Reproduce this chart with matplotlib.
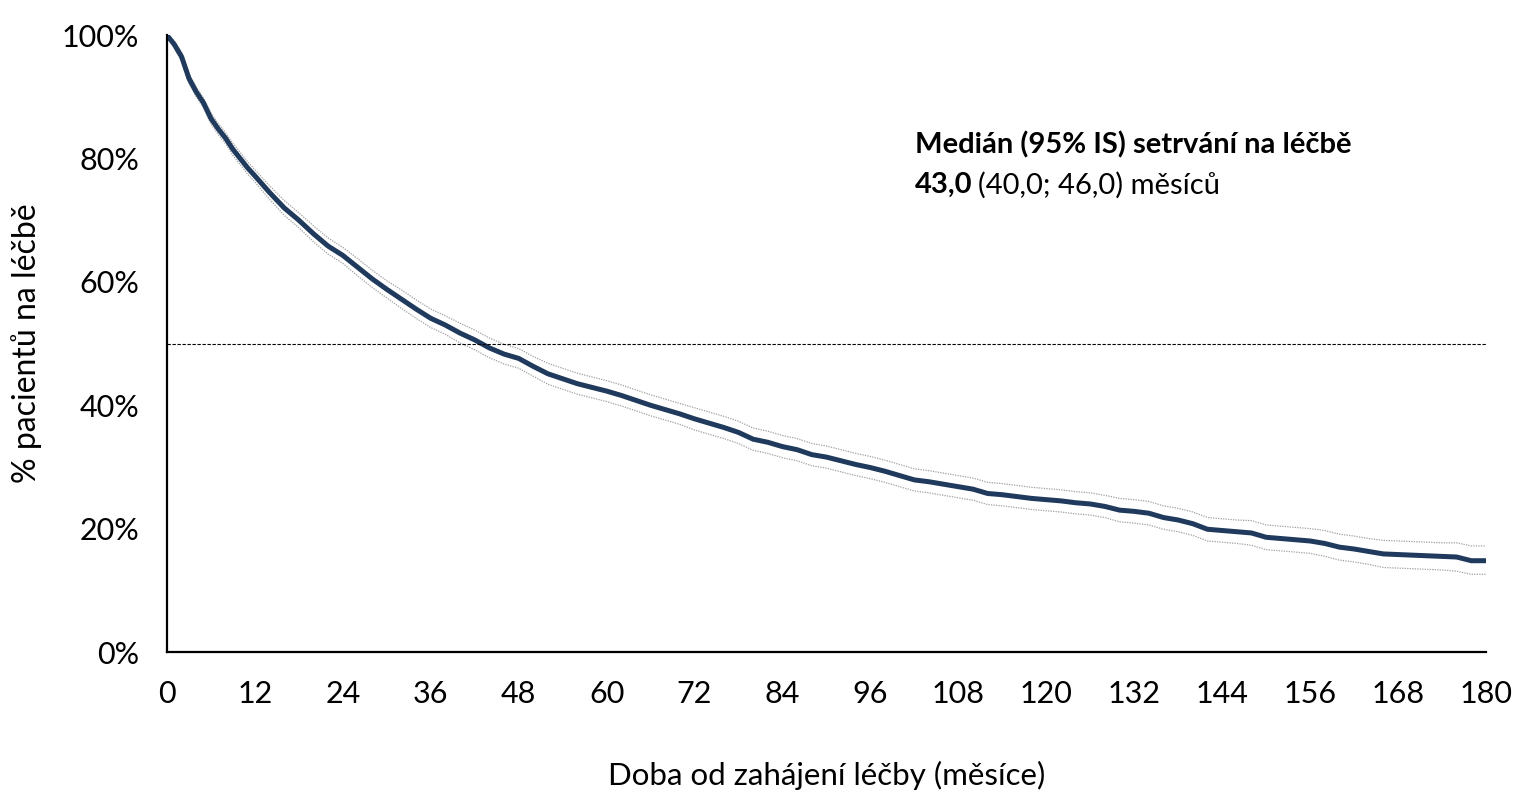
import numpy as np
import matplotlib
matplotlib.use("Agg")
import matplotlib.pyplot as plt
from matplotlib.ticker import FuncFormatter

plt.rcParams['font.family'] = ['Lato', 'DejaVu Sans']

# time on treatment (months) and share still on treatment (%)
months = [0, 1, 2, 3, 4, 5, 6, 7, 8, 9, 10, 11, 12,
          14, 16, 18, 20, 22, 24, 26, 28, 30, 32, 34, 36, 38, 40, 42, 44, 46, 48,
          50, 52, 54, 56, 58, 60, 62, 64, 66, 68, 70, 72, 74, 76, 78, 80, 82, 84,
          86, 88, 90, 92, 94, 96, 98, 100, 102, 104, 106, 108, 110, 112, 114, 116,
          118, 120, 122, 124, 126, 128, 130, 132, 134, 136, 138, 140, 142, 144, 146,
          148, 150, 152, 154, 156, 158, 160, 162, 164, 166, 168, 170, 172, 174, 176,
          178, 180]
surv = [100, 98.5, 96.5, 93.0, 90.8, 89.0, 86.5, 84.8, 83.3, 81.5, 80.0, 78.5, 77.2,
        74.5, 72.0, 70.0, 67.8, 65.8, 64.3, 62.4, 60.5, 58.8, 57.2, 55.6, 54.1, 53.0,
        51.7, 50.6, 49.3, 48.3, 47.6,
        46.3, 45.1, 44.3, 43.5, 42.9, 42.3, 41.6, 40.8, 40.0, 39.3, 38.6, 37.8, 37.1,
        36.4, 35.6, 34.5, 34.0, 33.3,
        32.8, 32.0, 31.6, 31.0, 30.4, 29.9, 29.3, 28.6, 27.9, 27.6, 27.2, 26.8, 26.4,
        25.7, 25.5, 25.2,
        24.9, 24.7, 24.5, 24.2, 24.0, 23.6, 23.0, 22.8, 22.5, 21.8, 21.4, 20.8, 19.9,
        19.7, 19.5,
        19.3, 18.6, 18.4, 18.2, 18.0, 17.6, 17.0, 16.7, 16.3, 15.9, 15.8, 15.7, 15.6,
        15.5, 15.4,
        14.8, 14.8]
upper = [100, 99.1, 97.2, 93.8, 91.6, 89.8, 87.4, 85.7, 84.2, 82.5, 81.0, 79.5, 78.2,
         75.6, 73.2, 71.2, 69.1, 67.1, 65.6, 63.8, 61.9, 60.2, 58.7, 57.1, 55.6, 54.5,
         53.3, 52.2, 50.9, 49.9, 49.2,
         47.9, 46.8, 46.0, 45.2, 44.6, 44.0, 43.3, 42.5, 41.7, 41.0, 40.3, 39.6, 38.9,
         38.2, 37.4, 36.3, 35.8, 35.1,
         34.6, 33.8, 33.4, 32.8, 32.2, 31.7, 31.1, 30.4, 29.7, 29.4, 29.0, 28.6, 28.2,
         27.5, 27.3, 27.0,
         26.7, 26.5, 26.3, 26.0, 25.8, 25.4, 24.9, 24.7, 24.4, 23.7, 23.3, 22.7, 21.8,
         21.6, 21.4,
         21.3, 20.6, 20.4, 20.2, 20.0, 19.7, 19.1, 18.8, 18.4, 18.1, 18.0, 17.9, 17.8,
         17.7, 17.7,
         17.2, 17.2]
lower = [100, 97.9, 95.8, 92.2, 90.0, 88.2, 85.6, 83.9, 82.4, 80.5, 79.0, 77.5, 76.2,
         73.4, 70.8, 68.8, 66.5, 64.5, 63.0, 61.0, 59.1, 57.4, 55.7, 54.1, 52.6, 51.5,
         50.1, 49.0, 47.7, 46.7, 46.0,
         44.7, 43.4, 42.6, 41.8, 41.2, 40.6, 39.9, 39.1, 38.3, 37.6, 36.9, 36.0, 35.3,
         34.6, 33.8, 32.7, 32.2, 31.5,
         31.0, 30.2, 29.8, 29.2, 28.6, 28.1, 27.5, 26.8, 26.1, 25.8, 25.4, 25.0, 24.6,
         23.9, 23.7, 23.4,
         23.1, 22.9, 22.7, 22.4, 22.2, 21.8, 21.1, 20.9, 20.6, 19.9, 19.5, 18.9, 18.0,
         17.8, 17.6,
         17.3, 16.6, 16.4, 16.2, 16.0, 15.5, 14.9, 14.6, 14.2, 13.7, 13.6, 13.5, 13.4,
         13.3, 13.1,
         12.6, 12.6]

median_line = 50
x_ticks = list(range(0, 181, 12))
y_ticks = [0, 20, 40, 60, 80, 100]


def main():
    fig = plt.figure(figsize=(15.36, 8), dpi=100)
    ax = fig.add_axes([0.1087, 0.185, 0.8587, 0.771])

    ax.plot(months, upper, color='#a0a0a0', lw=0.9, ls=(0, (1, 1)))
    ax.plot(months, lower, color='#a0a0a0', lw=0.9, ls=(0, (1, 1)))
    ax.plot(months, surv, color='#1f3a5c', lw=3.6)
    ax.plot([0, 180], [median_line, median_line], color='black', lw=0.8, ls=(0, (3, 1.5)))

    ax.set_xlim(0, 180)
    ax.set_ylim(0, 100)
    ax.set_xticks(x_ticks)
    ax.set_yticks(y_ticks)
    ax.yaxis.set_major_formatter(FuncFormatter(lambda v, p: "%d%%" % v))
    ax.tick_params(length=0, labelsize=22, pad=20, colors='black')

    for s in ['top', 'right']:
        ax.spines[s].set_visible(False)
    for s in ['left', 'bottom']:
        ax.spines[s].set_linewidth(1.6)
        ax.spines[s].set_color('black')

    ax.set_xlabel('Doba od zahájení léčby (měsíce)', fontsize=22.5, labelpad=38)
    ax.set_ylabel('% pacientů na léčbě', fontsize=23, labelpad=14)

    # median annotation
    fig.text(915 / 1536, 1 - 145 / 800, 'Medián (95% IS) setrvání na léčbě',
             fontsize=21, fontweight='bold', va='center', ha='left')
    t1 = fig.text(915 / 1536, 1 - 185 / 800, '43,0', fontsize=21, fontweight='bold',
                  va='center', ha='left')
    fig.canvas.draw()
    bb = t1.get_window_extent()
    fig.text((bb.x1 + 6) / 1536, 1 - 185 / 800, '(40,0; 46,0) měsíců',
             fontsize=21, va='center', ha='left')

    plt.savefig('out.png', dpi=100)
    plt.close()


if __name__ == '__main__':
    main()
